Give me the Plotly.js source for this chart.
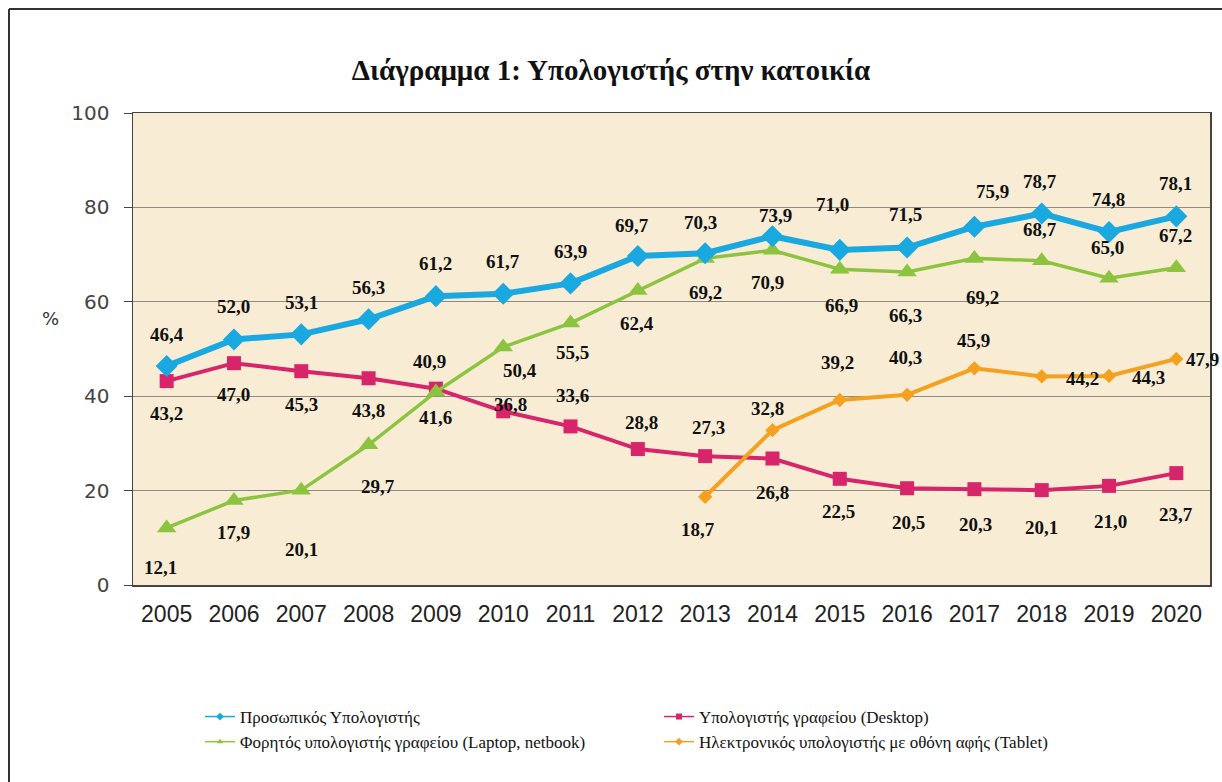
<!DOCTYPE html>
<html>
<head>
<meta charset="utf-8">
<script src="https://cdn.plot.ly/plotly-3.0.1.min.js"></script>
<style>
body { margin: 0; background: #fff; }
#chart { width: 1222px; height: 782px; }
</style>
</head>
<body>
<div id="chart"></div>
<script>
// Δεδομένα
var years = ["2005", "2006", "2007", "2008", "2009", "2010", "2011", "2012",
	"2013", "2014", "2015", "2016", "2017", "2018", "2019", "2020"];
var pcValues = [46.4, 52.0, 53.1, 56.3, 61.2, 61.7, 63.9, 69.7, 70.3, 73.9, 71.0, 71.5, 75.9, 78.7, 74.8, 78.1];
var desktopValues = [43.2, 47.0, 45.3, 43.8, 41.6, 36.8, 33.6, 28.8, 27.3, 26.8, 22.5, 20.5, 20.3, 20.1, 21.0, 23.7];
var laptopValues = [12.1, 17.9, 20.1, 29.7, 40.9, 50.4, 55.5, 62.4, 69.2, 70.9, 66.9, 66.3, 69.2, 68.7, 65.0, 67.2];
var tabletValues = [null, null, null, null, null, null, null, null, 18.7, 32.8, 39.2, 40.3, 45.9, 44.2, 44.3, 47.9];
var seriesNames = [
	"Προσωπικός Υπολογιστής",
	"Υπολογιστής γραφείου (Desktop)",
	"Φορητός υπολογιστής γραφείου (Laptop, netbook)",
	"Ηλεκτρονικός υπολογιστής με οθόνη αφής (Tablet)"
];

// Μετατοπίσεις ετικετών σε pixel (θετικό dy = προς τα κάτω)
var pcDx = [0, 0, 0, 0, 0, 0, 0, -6, -5, 3, -7, -2, 18, -2, -1, -1];
var pcDy = [-31, -33, -32, -32, -33, -32, -32, -31, -31, -21, -45, -33, -35, -32, -32, -33];
var deskDx = [0, 0, 0, 0, 0, 7, 2, 4, 3, 0, -1, 1, 1, 0, 1, 0];
var deskDy = [32, 31, 33, 32, 29, -7, -31, -27, -29, 34, 33, 34, 35, 37, 36, 41];
var lapDx = [-6, 0, 0, 9, -6, 17, 2, -1, 0, -5, 2, -2, 8, -2, -2, -1];
var lapDy = [40, 32, 59, 42, -30, 23, 29, 33, 34, 32, 36, 43, 39, -31, -31, -32];
var tabDx = [0, 0, 0, 0, 0, 0, 0, 0, -7, -5, -2, -2, -1, 41, 39, 26];
var tabDy = [0, 0, 0, 0, 0, 0, 0, 0, 33, -22, -37, -37, -28, 2, 2, 1];

var colors = ["#1aa8e0", "#d8246a", "#8cc440", "#f5a01e"];

// Περιοχή γραφήματος σε pixel
var plotL = 133, plotR = 1210, plotT = 113, plotB = 585;
function px2x(px) { return (px - plotL) / (plotR - plotL); }
function px2y(py) { return (plotB - py) / (plotB - plotT); }

function fmt(v) {
	return v.toFixed(1).replace(".", ",");
}

var labelFont = {family: "Liberation Serif, Times New Roman, serif", size: 19, color: "#111"};

function labelsFor(values, dx, dy) {
	var out = [];
	for (var i = 0; i < values.length; i++) {
		if (values[i] === null) {
			continue;
		}
		out.push({
			x: i, y: values[i], xref: "x", yref: "y",
			text: "<b>" + fmt(values[i]) + "</b>",
			showarrow: false, xshift: dx[i], yshift: -dy[i],
			font: labelFont
		});
	}
	return out;
}

// Γραμμές (σειρά σχεδίασης)
var traces = [
	{x: years, y: desktopValues, name: seriesNames[1], mode: "lines+markers", showlegend: false,
		line: {color: colors[1], width: 4}, marker: {symbol: "square", size: 14, color: colors[1]}},
	{x: years, y: laptopValues, name: seriesNames[2], mode: "lines+markers", showlegend: false,
		line: {color: colors[2], width: 3.5}, marker: {symbol: "triangle-up", size: 17, color: colors[2]}},
	{x: years, y: tabletValues, name: seriesNames[3], mode: "lines+markers", showlegend: false,
		line: {color: colors[3], width: 4}, marker: {symbol: "diamond", size: 11, color: colors[3]}},
	{x: years, y: pcValues, name: seriesNames[0], mode: "lines+markers", showlegend: false,
		line: {color: colors[0], width: 6}, marker: {symbol: "diamond", size: 17, color: colors[0]}}
];

// Υπόμνημα με λεπτές γραμμές
var legendSymbols = ["diamond", "square", "triangle-up", "diamond"];
for (var k = 0; k < 4; k++) {
	traces.push({
		x: [years[0]], y: [null], name: seriesNames[k], mode: "lines+markers",
		line: {color: colors[k], width: 1.5},
		marker: {symbol: legendSymbols[k], size: 6, color: colors[k]}
	});
}

var annotations = []
	.concat(labelsFor(pcValues, pcDx, pcDy))
	.concat(labelsFor(desktopValues, deskDx, deskDy))
	.concat(labelsFor(laptopValues, lapDx, lapDy))
	.concat(labelsFor(tabletValues, tabDx, tabDy));

annotations.push({
	xref: "paper", yref: "paper", x: px2x(40), y: px2y(318),
	text: "%", showarrow: false,
	font: {family: "DejaVu Sans, sans-serif", size: 18, color: "#333"}
});

var layout = {
	width: 1222,
	height: 782,
	paper_bgcolor: "#ffffff",
	plot_bgcolor: "#f8edd4",
	margin: {l: plotL, r: 1222 - plotR, t: plotT, b: 782 - plotB, pad: 0},
	title: {
		text: "<b>Διάγραμμα 1: Υπολογιστής στην κατοικία</b>",
		x: 0.5, xanchor: "center", y: 1 - 70 / 782, yanchor: "middle",
		font: {family: "Liberation Serif, Times New Roman, serif", size: 29, color: "#111"}
	},
	xaxis: {
		type: "category",
		categoryorder: "array", categoryarray: years,
		range: [-0.5, years.length - 0.5],
		showgrid: false,
		showline: true, linecolor: "#444", linewidth: 1.5, mirror: true,
		ticks: "",
		ticklabelstandoff: 8,
		tickfont: {family: "Liberation Sans, Arial, sans-serif", size: 23, color: "#222"},
		fixedrange: true
	},
	yaxis: {
		range: [0, 100],
		dtick: 20,
		showgrid: true, gridcolor: "#8f8a80", gridwidth: 1,
		zeroline: false,
		showline: true, linecolor: "#444", linewidth: 1.5, mirror: true,
		ticks: "outside", ticklen: 8, tickcolor: "#444",
		ticklabelstandoff: 10,
		tickfont: {family: "DejaVu Sans, Verdana, sans-serif", size: 20, color: "#444"},
		fixedrange: true
	},
	legend: {
		orientation: "h",
		x: px2x(200), xanchor: "left",
		y: px2y(699), yanchor: "top",
		entrywidth: 414, entrywidthmode: "pixels",
		traceorder: "normal",
		font: {family: "Liberation Serif, Times New Roman, serif", size: 17, color: "#111"},
		bgcolor: "rgba(0,0,0,0)"
	},
	annotations: annotations,
	shapes: [
		// εξωτερικό πλαίσιο (αριστερά και πάνω)
		{type: "line", xref: "paper", yref: "paper", x0: px2x(9), x1: px2x(9), y0: px2y(9), y1: px2y(782),
			line: {color: "#333", width: 2}},
		{type: "line", xref: "paper", yref: "paper", x0: px2x(9), x1: px2x(1222), y0: px2y(9), y1: px2y(9),
			line: {color: "#333", width: 2}}
	]
};

Plotly.newPlot("chart", traces, layout, {displayModeBar: false, staticPlot: true});
</script>
</body>
</html>
